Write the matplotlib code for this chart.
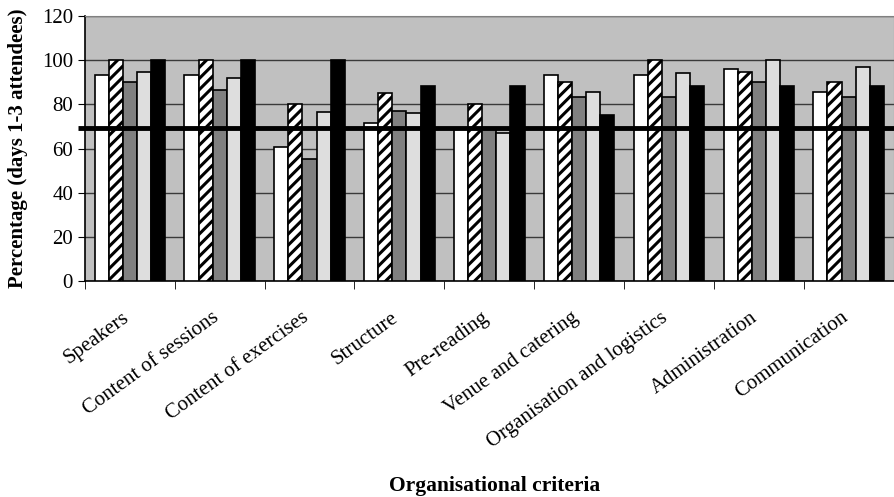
import numpy as np
import matplotlib.pyplot as plt
import matplotlib.transforms as mtransforms

# Criterios e valores (percentagem) de cada serie
criterios = ['Speakers', 'Content of sessions', 'Content of exercises', 'Structure',
             'Pre-reading', 'Venue and catering', 'Organisation and logistics',
             'Administration', 'Communication']
serie_1 = [93.3, 93.3, 60.8, 71.4, 68.8, 93.3, 93.3, 95.9, 85.8]
serie_2 = [100, 100, 80, 85.3, 80.2, 90.3, 100, 94.5, 90.3]
serie_3 = [90.3, 86.5, 55.3, 77.1, 68.8, 83.5, 83.5, 90.3, 83.5]
serie_4 = [94.5, 91.8, 76.4, 76.2, 66.9, 85.8, 94.0, 100, 96.8]
serie_5 = [100, 100, 100, 88.3, 88.3, 75, 88.3, 88.3, 88.3]
limiar = 69.3

plt.rcParams['font.family'] = ['Liberation Serif', 'DejaVu Serif']
plt.rcParams['hatch.linewidth'] = 2.2

fig = plt.figure(figsize=(8.94, 4.97), dpi=100)
ax = fig.add_axes([0.095, 0.4346, 0.9045, 0.5332])
ax.set_facecolor('#c0c0c0')

x = np.arange(len(criterios))
w = 0.157
estilos = [
    dict(color='white', hatch=None),
    dict(color='white', hatch='///'),
    dict(color='#808080', hatch=None),
    dict(color='#dedede', hatch=None),
    dict(color='black', hatch=None),
]
series = [serie_1, serie_2, serie_3, serie_4, serie_5]
for i, (vals, st) in enumerate(zip(series, estilos)):
    ax.bar(x + (i - 2) * w, vals, w, color=st['color'], hatch=st['hatch'],
           edgecolor='black', linewidth=1.2, zorder=3)

ax.set_xlim(-0.5, len(criterios) - 0.5)
ax.set_ylim(0, 120)
ax.set_yticks(range(0, 121, 20))
ax.yaxis.grid(True, color='#3a3a3a', linewidth=1)
ax.set_axisbelow(True)

ax.hlines(limiar, -0.58, len(criterios) - 0.5, color='black', linewidth=3.5,
          zorder=5, clip_on=False)

# marcas entre categorias, rotulos no centro
ax.set_xticks(np.arange(-0.5, len(criterios)), minor=True)
ax.set_xticks(x)
ax.set_xticklabels(criterios, rotation=36, ha='right', va='center',
                   rotation_mode='anchor', fontsize=15)
ax.tick_params(axis='x', which='major', length=0, pad=25)
ax.tick_params(axis='x', which='minor', length=6, direction='out', color='black')
ax.tick_params(axis='y', labelsize=15, length=5, direction='out')
desloc = mtransforms.ScaledTranslation(-2 / 72, 0, fig.dpi_scale_trans)
for lbl in ax.get_xticklabels():
    lbl.set_transform(lbl.get_transform() + desloc)

for s in ['top', 'right']:
    ax.spines[s].set_color('#808080')
    ax.spines[s].set_linewidth(0.8)
ax.spines['left'].set_linewidth(1.2)
ax.spines['bottom'].set_linewidth(1.2)

ax.set_ylabel('Percentage (days 1-3 attendees)', fontsize=15, fontweight='bold')
ax.yaxis.set_label_coords(-0.07, 0.5)
fig.text(0.553, 0.012, 'Organisational criteria', ha='center', fontsize=15.5, fontweight='bold')

fig.savefig('out.png', dpi=100)
